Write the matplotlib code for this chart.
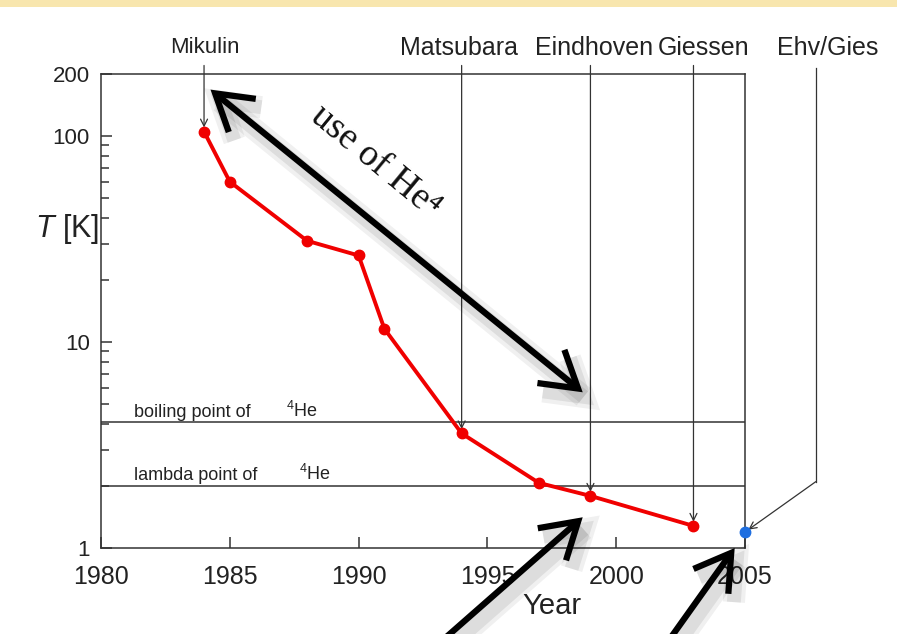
import matplotlib
matplotlib.use("Agg")
import matplotlib.pyplot as plt
import matplotlib.ticker as mticker
import matplotlib.patheffects as pe
from matplotlib.patches import Rectangle, FancyArrowPatch

# ---- data ----
years = [1984, 1985, 1988, 1990, 1991, 1994, 1997, 1999, 2003]
temps = [105, 60, 31, 26.3, 11.6, 3.6, 2.07, 1.79, 1.28]
new_year = [2005]
new_temp = [1.195]

boiling_T = 4.1
lambda_T = 2.0

labels = ["Mikulin", "Matsubara", "Eindhoven", "Giessen"]
label_years = [1984, 1994, 1999, 2003]
label_temps = [105, 3.6, 1.79, 1.28]

xticks = [1980, 1985, 1990, 1995, 2000, 2005]
yticks = [1, 10, 100, 200]
yminor = [2, 3, 4, 5, 6, 7, 8, 9, 20, 30, 40, 50, 60, 70, 80, 90]

plt.rcParams['font.family'] = ['Liberation Sans', 'DejaVu Sans']
plt.rcParams['mathtext.fontset'] = 'custom'
plt.rcParams['mathtext.rm'] = 'Liberation Sans'
plt.rcParams['mathtext.it'] = 'Liberation Sans:italic'

W, H = 897, 634
fig = plt.figure(figsize=(W / 100, H / 100), dpi=100)
fig.patch.set_facecolor('white')

# top decorative band
fig.patches.append(Rectangle((0, 1 - 7 / H), 1, 7 / H, transform=fig.transFigure,
                             facecolor='#f8e6ae', edgecolor='none', zorder=0))

ax = fig.add_axes([101 / W, 1 - 548 / H, (745 - 101) / W, (548 - 74) / H])
ax.set_yscale('log')
ax.set_xlim(1980, 2005)
ax.set_ylim(1, 200)

spc = '#333333'
for s in ax.spines.values():
    s.set_color(spc)
    s.set_linewidth(1.1)

ax.set_xticks(xticks)
ax.set_xticklabels([str(x) for x in xticks])
ax.yaxis.set_major_locator(mticker.FixedLocator(yticks))
ax.yaxis.set_major_formatter(mticker.FixedFormatter([str(y) for y in yticks]))
ax.yaxis.set_minor_locator(mticker.FixedLocator(yminor))
ax.yaxis.set_minor_formatter(mticker.NullFormatter())
ax.tick_params(axis='x', which='major', direction='in', length=8, width=1.1,
               color=spc, labelsize=18, pad=12, labelcolor='#222222')
ax.tick_params(axis='y', which='major', direction='in', length=8, width=1.1,
               color=spc, labelsize=16, pad=8, labelcolor='#222222')
ax.tick_params(axis='y', which='minor', direction='in', length=6, width=1.1,
               color=spc)

ax.set_xlabel('Year', fontsize=21, color='#222222', va='center')
ax.xaxis.set_label_coords(0.70, -0.123)
ax.set_ylabel('$T$ [K]', fontsize=22, rotation=0, color='#222222', va='center', ha='center')
ax.yaxis.set_label_coords(-0.053, 0.674)

# reference lines
ax.axhline(boiling_T, color='#333333', lw=1.1, zorder=2)
ax.axhline(lambda_T, color='#333333', lw=1.1, zorder=2)
ax.text(1981.3, boiling_T * 1.01, 'boiling point of', fontsize=13, color='#222222',
        va='bottom', ha='left')
ax.text(1987.2, boiling_T * 1.01, '$^4$He', fontsize=13, color='#222222',
        va='bottom', ha='left')
ax.text(1981.3, lambda_T * 1.02, 'lambda point of', fontsize=13, color='#222222',
        va='bottom', ha='left')
ax.text(1987.7, lambda_T * 1.02, '$^4$He', fontsize=13, color='#222222',
        va='bottom', ha='left')

# data
ax.plot(years, temps, color='#f00000', lw=2.8, marker='o', markersize=7.5, zorder=4,
        clip_on=False)
ax.plot(new_year, new_temp, color='#1f6fe0', lw=0, marker='o', markersize=7.5, zorder=5,
        clip_on=False)

# top labels with pointer lines
label_x_px = [205, 459, 594, 704]
for name, yr, T, lx in zip(labels, label_years, label_temps, label_x_px):
    ax.annotate('', xy=(yr, T), xycoords='data',
                xytext=(yr, 1.018), textcoords=('data', 'axes fraction'),
                arrowprops=dict(arrowstyle='->,head_length=0.5,head_width=0.25',
                                color='#333333', lw=0.9, shrinkA=0, shrinkB=3),
                annotation_clip=False, zorder=3)
    fs = 16 if name == 'Mikulin' else 18
    ax.text((lx - 101) / 644, 1.055, name, transform=ax.transAxes, fontsize=fs,
            ha='center', va='center', color='#222222')

# Ehv/Gies bent pointer
corner = (2007.75, 2.1)
ax.plot([corner[0], corner[0]], [corner[1], 10 ** ((548 - 67) / 206.4)],
        color='#333333', lw=0.9, clip_on=False)
ax.annotate('', xy=(new_year[0], new_temp[0]), xytext=corner,
            arrowprops=dict(arrowstyle='->,head_length=0.5,head_width=0.25',
                            color='#333333', lw=0.9, shrinkA=0, shrinkB=3),
            annotation_clip=False)
ax.text((828 - 101) / 644, 1.055, 'Ehv/Gies', transform=ax.transAxes, fontsize=18,
        ha='center', va='center', color='#222222')

# big black arrows with soft shadow
shadow = [pe.SimpleLineShadow(offset=(4, -6), shadow_color='k', alpha=0.06, linewidth=16),
          pe.SimpleLineShadow(offset=(4, -6), shadow_color='k', alpha=0.08, linewidth=10),
          pe.Normal()]


def big_arrow(p0, p1, style):
    a = FancyArrowPatch(p0, p1, arrowstyle=style, mutation_scale=28, lw=4.5,
                        color='black', transform=ax.transData, clip_on=False,
                        shrinkA=0, shrinkB=0, zorder=6, joinstyle='miter',
                        capstyle='butt')
    a.set_path_effects(shadow)
    ax.add_patch(a)


big_arrow((1984.25, 168), (1998.7, 5.7), '<->,head_length=0.9,head_width=0.55')
big_arrow((1993.3, 0.36), (1998.7, 1.41), '->,head_length=0.9,head_width=0.55')
big_arrow((2002.0, 0.35), (2004.6, 1.0), '->,head_length=0.9,head_width=0.55')

ax.text(0.4255, 0.815, 'use of He\u2074', transform=ax.transAxes, fontsize=27,
        family=['Liberation Serif', 'DejaVu Serif'], rotation=-39.5,
        rotation_mode='anchor', ha='center', va='center', color='#111111', zorder=7)

fig.savefig('out.png', dpi=100)
